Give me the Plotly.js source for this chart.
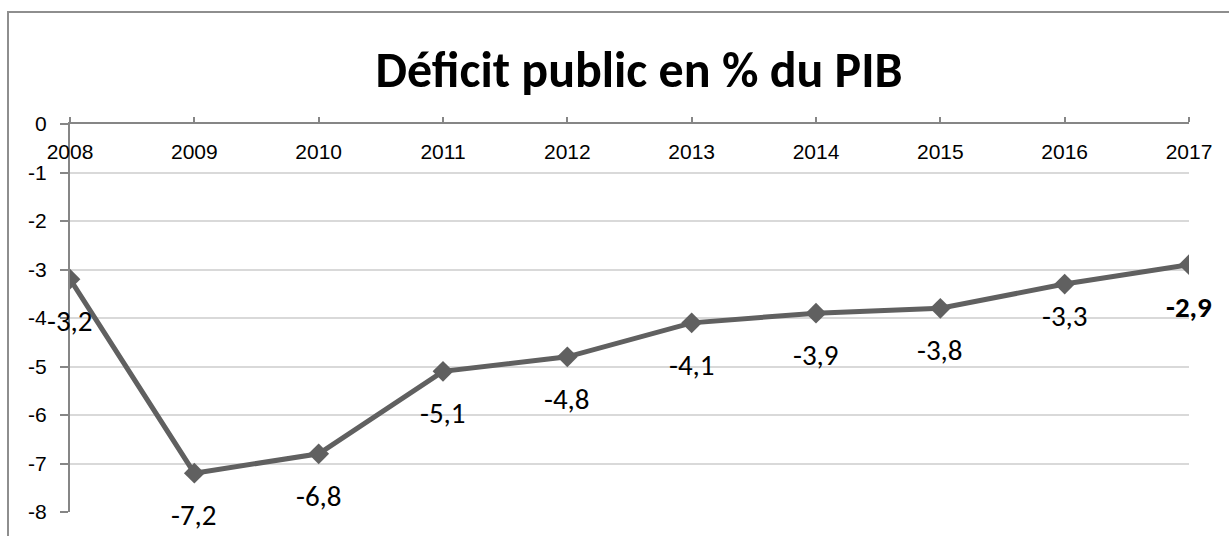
<!DOCTYPE html>
<html>
<head>
<meta charset="utf-8">
<script src="https://cdn.plot.ly/plotly-3.0.1.min.js"></script>
<style>
  html, body { margin: 0; padding: 0; background: #fff; overflow: hidden; }
  #wrap { position: relative; width: 1229px; height: 536px; }
  #chart { width: 1229px; height: 536px; }
  #frame { position: absolute; left: 7px; top: 11px; width: 1400px; height: 800px;
           border-left: 2px solid #8e8e8e; border-top: 2px solid #8e8e8e; pointer-events: none; }
</style>
</head>
<body>
<div id="wrap">
  <div id="chart"></div>
  <div id="frame"></div>
</div>
<script>
// Data
const years = ['2008', '2009', '2010', '2011', '2012', '2013', '2014', '2015', '2016', '2017'];
const deficit = [-3.2, -7.2, -6.8, -5.1, -4.8, -4.1, -3.9, -3.8, -3.3, -2.9];
const yTickValues = [0, -1, -2, -3, -4, -5, -6, -7, -8];
const yTickLabels = ['0', '-1', '-2', '-3', '-4', '-5', '-6', '-7', '-8'];
const chartTitle = 'Déficit public en % du PIB';

// Styling (label offsets in pixels below each point)
const labelOffsets = [42, 42, 42, 42, 42, 42, 42, 42, 32, 42];
const lineColor = '#606060';
const axisColor = '#868686';

const xIndex = years.map((_, i) => i);
const fmt = v => String(v).replace('.', ',');

const annotations = xIndex.map(i => ({
  x: i, y: deficit[i], xref: 'x', yref: 'y',
  text: i === years.length - 1 ? '<b>' + fmt(deficit[i]) + '</b>' : fmt(deficit[i]),
  showarrow: false, yshift: -labelOffsets[i],
  font: { family: 'Carlito, Lato, sans-serif', size: 29, color: '#000' }
}));

const trace = {
  x: xIndex, y: deficit, type: 'scatter', mode: 'lines+markers',
  line: { color: lineColor, width: 5 },
  marker: { symbol: 'diamond', size: 16, color: lineColor },
  hoverinfo: 'y'
};

// carrier for the year-label axis (draws nothing)
const labelAxisTrace = {
  x: xIndex, y: deficit, xaxis: 'x2', yaxis: 'y', type: 'scatter', mode: 'none',
  hoverinfo: 'skip', showlegend: false
};

const layout = {
  width: 1229, height: 536,
  margin: { l: 70, r: 40, t: 124, b: 24, pad: 0 },
  paper_bgcolor: '#fff', plot_bgcolor: '#fff',
  showlegend: false,
  title: {
    text: '<b>' + chartTitle + '</b>',
    font: { family: 'Carlito, Lato, sans-serif', size: 50, color: '#000' },
    xref: 'container', x: 639 / 1229, xanchor: 'center',
    yref: 'container', y: 1 - 69 / 536, yanchor: 'middle'
  },
  xaxis: {
    range: [0, 9], side: 'top', tickvals: xIndex, ticktext: years,
    showticklabels: false,
    showline: true, linecolor: axisColor, linewidth: 2.5,
    ticks: 'outside', ticklen: 5, tickwidth: 2, tickcolor: axisColor,
    showgrid: false, zeroline: false, fixedrange: true
  },
  xaxis2: {
    overlaying: 'x', anchor: 'free', position: 0.967, side: 'bottom',
    range: [0, 9], tickvals: xIndex, ticktext: years,
    showline: false, ticks: '', showgrid: false, zeroline: false, fixedrange: true,
    tickfont: { family: 'Liberation Sans, Arial, sans-serif', size: 21, color: '#000' }
  },
  yaxis: {
    range: [-8, 0], tickvals: yTickValues, ticktext: yTickLabels,
    showline: true, linecolor: axisColor, linewidth: 2,
    ticks: 'outside', ticklen: 8, tickwidth: 2, tickcolor: axisColor,
    ticklabelstandoff: 9,
    showgrid: true, gridcolor: '#d9d9d9', gridwidth: 2,
    zeroline: false, fixedrange: true,
    tickfont: { family: 'Liberation Sans, Arial, sans-serif', size: 21, color: '#000' }
  },
  annotations: annotations
};

Plotly.newPlot('chart', [trace, labelAxisTrace], layout, { displayModeBar: false, staticPlot: true });
</script>
</body>
</html>
